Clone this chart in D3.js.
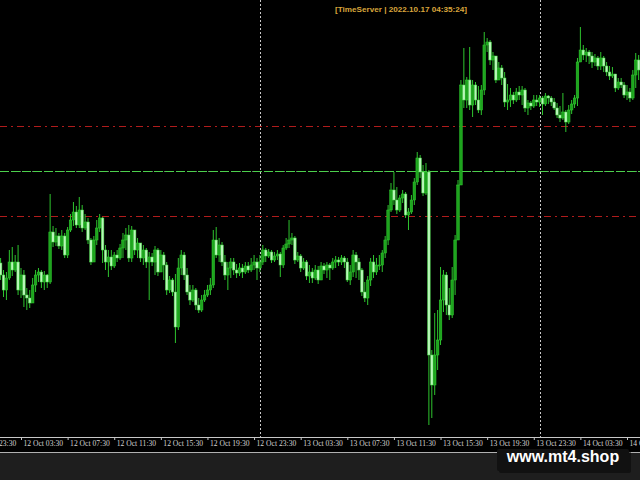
<!DOCTYPE html>
<html><head><meta charset="utf-8">
<script src="https://cdn.jsdelivr.net/npm/d3@7"></script>
<style>html,body{margin:0;padding:0;background:#1e1e1e;overflow:hidden}svg{display:block}</style>
</head><body><svg id="c" width="640" height="480"></svg>
<script>
// ---- data (EURUSD-like M15 bars, prices in pips: 9688.5 -> 0.96885) ----
const startTime = "2022-10-12T01:45:00Z";
const barMinutes = 15;
const open0 = 9694.5;
const closes = [9688.5,9681,9687,9695,9691,9695,9681,9688.5,9678.5,9677,9674.5,9683.5,9688.5,9690,9685,9688.5,9685,9710,9705,9708,
9703,9708,9698.5,9711,9716,9720,9713.5,9721,9712,9715,9706,9695,9706,9712,9717,9701,9695,9697.5,9693,9698.5,
9697,9702,9706,9708.5,9697,9711,9701,9704.5,9697,9701,9695,9697.5,9695,9701,9690,9698.5,9693.5,9681,9686,9680,
9662.5,9692,9698.5,9688.5,9680,9676,9681,9673.5,9671,9676,9678.5,9681,9683.5,9706,9698.5,9703.5,9695,9688.5,9692,9695,
9691,9689.5,9692,9690,9693,9691,9693.5,9695,9692,9695,9701,9698,9700,9696,9698,9699,9693.5,9702,9704,9706,
9707,9696,9698,9692,9695,9688,9690,9687,9691,9686,9693,9691,9693.5,9692,9695,9696,9695,9697,9695,9686,
9690,9698.5,9695,9691,9680,9677,9686,9695,9690,9693.5,9693.5,9699.5,9706,9721,9731,9726,9721,9727,9729,9718.5,
9720,9726,9735,9747,9740,9729.5,9740,9648.5,9633.5,9648.5,9656,9676,9688.5,9673.5,9668.5,9686,9706,9733.5,9783.5,9776,
9786,9773.5,9783.5,9776,9771,9781,9803.5,9805,9796,9798,9786,9792,9787,9775,9776,9778.5,9776,9780,9778.5,9781,
9772,9774.5,9773,9776,9775,9777,9774,9778,9777,9775,9772,9768.5,9767,9770,9765,9771,9774,9777,9795,9801,
9798.5,9800,9798,9795,9797,9793,9797,9793,9790,9788,9789,9782,9785,9783.5,9778.5,9780,9777,9788.5,9796,9791];
const highs = [9697,9691,9690,9701,9702.5,9698.5,9703.5,9692,9691,9682,9681,9687,9691,9692,9691,9690.5,9689,9729,9713,9712,
9709.5,9711,9709.5,9712.5,9719,9725,9723,9727.5,9723.5,9719,9717,9707,9708,9716,9719,9717.5,9703.5,9701,9701,9700,
9701,9704,9709.5,9712,9713.5,9713,9706,9707,9703.5,9703.5,9702,9700,9699.5,9703,9702,9701,9700,9695,9688,9687,
9689,9697,9701,9700,9692,9683.5,9683.5,9682,9677,9678.5,9681,9683.5,9687,9711,9712.5,9707,9705,9698.5,9695,9697,
9697,9694,9694.5,9694,9695,9695,9697,9698.5,9697,9698.5,9703.5,9702,9701.5,9701,9700,9701,9700,9703.5,9707,9716,
9709.5,9708,9700,9699,9697,9696,9693.5,9692,9693.5,9693,9695,9694.5,9695,9694.5,9697,9698,9697.5,9698.5,9698,9697,
9693.5,9701,9700,9697,9692,9685,9688,9697,9698.5,9697,9698.5,9701,9708,9723.5,9734.5,9740,9732.5,9728.5,9731,9730,
9722,9728.5,9737,9750,9748.5,9743.5,9744.5,9741,9651,9669.5,9671,9692.5,9691,9690,9682,9692.5,9708.5,9736,9786,9802,
9787.5,9802.5,9786,9785,9783,9783.5,9810,9807,9806,9800,9797,9795,9793.5,9790,9784,9782,9780,9782,9783,9783,
9782,9776,9775.5,9778.5,9778.5,9778.5,9778,9779.5,9778.5,9778,9777,9774.5,9773,9779.5,9771,9773.5,9776,9778.5,9797,9812.5,
9803.5,9802,9801,9800,9799,9798,9800,9798,9795,9793,9792.5,9788.5,9787,9787,9785,9783.5,9782,9791,9799.5,9798.5];
const lows = [9686,9677.5,9676,9686,9688,9690,9678.5,9677,9672.5,9671,9672,9674.5,9680,9685,9682,9681,9682,9684,9702.5,9703,
9701.5,9701,9697,9697,9710,9713,9712,9712,9710,9711,9704,9693.5,9697,9703.5,9710,9694.5,9691,9687.5,9691,9692,
9695,9696,9697,9701,9695,9695,9698.5,9697,9695,9693.5,9692,9676,9693,9688.5,9688,9691,9686,9678.5,9679.5,9678,
9654.5,9661,9688.5,9686,9678.5,9673.5,9675,9671,9669.5,9670,9675,9677.5,9678.5,9682,9697,9695,9693,9686,9681,9687,
9688.5,9687,9688,9687,9689,9689.5,9690,9691,9686,9690,9693.5,9695,9697,9694.5,9695,9696,9687.5,9692,9701,9702,
9703.5,9694,9695,9690,9691,9686,9684.5,9684.5,9686,9684,9687,9689,9687,9686,9691,9692,9693,9693.5,9692,9685,
9683.5,9687.5,9687,9686,9678,9675,9673.5,9683,9687,9688.5,9691,9690,9697,9703.5,9720,9723.5,9719,9720,9724.5,9717,
9711,9719,9723.5,9733.5,9737,9728,9728.5,9613.5,9617,9628.5,9641,9653.5,9670,9668.5,9666,9667,9678.5,9706,9733.5,9772,
9772,9771,9767.5,9773.5,9769.5,9768.5,9778.5,9800,9793.5,9791,9784.5,9787,9783.5,9772.5,9771,9772.5,9774,9775,9776,9773.5,
9770,9768.5,9771,9772,9773,9772.5,9768.5,9773,9774,9773,9771,9767,9765,9766,9760,9764,9769,9772,9773,9795,
9796,9795,9794,9792,9793,9791,9791,9790,9788,9786,9787,9780,9781,9782,9777,9776,9775,9776,9782,9786];
const tickTimes = ["2022-10-11T23:30:00Z","2022-10-12T03:30:00Z","2022-10-12T07:30:00Z","2022-10-12T11:30:00Z","2022-10-12T15:30:00Z",
"2022-10-12T19:30:00Z","2022-10-12T23:30:00Z","2022-10-13T03:30:00Z","2022-10-13T07:30:00Z","2022-10-13T11:30:00Z",
"2022-10-13T15:30:00Z","2022-10-13T19:30:00Z","2022-10-13T23:30:00Z","2022-10-14T03:30:00Z","2022-10-14T07:30:00Z"];
const daySeparators = ["2022-10-13T00:00:00Z","2022-10-14T00:00:00Z"];
const redLevels = [9763, 9718];
const greenLevels = [9740.5];
const titleText = "[TimeServer | 2022.10.17 04:35:24]";
const watermarkText = "www.mt4.shop";

// ---- build ----
const W = 640, H = 480, plotBottom = 437;
const svg = d3.select("#c");
const parse = d3.utcParse("%Y-%m-%dT%H:%M:%SZ");
const t0 = parse(startTime);
const bars = closes.map((c, i) => ({
  t: d3.utcMinute.offset(t0, i * barMinutes),
  o: (i === 0 ? open0 : closes[i - 1]) / 10000,
  c: c / 10000, h: highs[i] / 10000, l: lows[i] / 10000
}));

const x = d3.scaleUtc()
  .domain([parse("2022-10-12T03:30:00Z"), parse("2022-10-14T07:30:00Z")])
  .range([21, 627]);
const y = d3.scaleLinear().domain([0.96075, 0.9826]).range([plotBottom, 0]);

svg.append("rect").attr("width", W).attr("height", H).attr("fill", "#1e1e1e");
svg.append("rect").attr("width", W).attr("height", 453).attr("fill", "#000");

svg.append("clipPath").attr("id", "pc").append("rect").attr("width", W).attr("height", plotBottom);
const plot = svg.append("g").attr("clip-path", "url(#pc)");

// vertical day separators
plot.selectAll("line.vs").data(daySeparators).join("line")
  .attr("x1", d => Math.round(x(parse(d))) + 0.5).attr("x2", d => Math.round(x(parse(d))) + 0.5)
  .attr("y1", 0).attr("y2", plotBottom)
  .attr("stroke", "#c8c8c8").attr("stroke-width", 1).attr("stroke-dasharray", "2,2");

// horizontal levels
plot.selectAll("line.gg").data(greenLevels).join("line")
  .attr("x1", 0).attr("x2", W)
  .attr("y1", d => Math.round(y(d / 10000)) + 0.5).attr("y2", d => Math.round(y(d / 10000)) + 0.5)
  .attr("stroke", "#6a6a6a").attr("stroke-dasharray", "1,3");
plot.selectAll("line.gl").data(greenLevels).join("line")
  .attr("x1", 0).attr("x2", W)
  .attr("y1", d => Math.round(y(d / 10000)) + 0.5).attr("y2", d => Math.round(y(d / 10000)) + 0.5)
  .attr("stroke", "#4cd04c").attr("stroke-width", 1.1).attr("stroke-dasharray", "9,2");
plot.selectAll("line.rl").data(redLevels).join("line")
  .attr("x1", 0).attr("x2", W)
  .attr("y1", d => Math.round(y(d / 10000)) + 0.5).attr("y2", d => Math.round(y(d / 10000)) + 0.5)
  .attr("stroke", "#b01c1c").attr("stroke-width", 1.2).attr("stroke-dasharray", "7,4,2,4");

// candles
const bw = 2.6;
plot.selectAll("line.wick").data(bars).join("line")
  .attr("x1", d => x(d.t)).attr("x2", d => x(d.t))
  .attr("y1", d => y(Math.max(d.h, d.o, d.c))).attr("y2", d => y(Math.min(d.l, d.o, d.c)))
  .attr("stroke", "#2ec42e").attr("stroke-width", 1);
plot.selectAll("rect.body").data(bars).join("rect")
  .attr("x", d => x(d.t) - bw / 2)
  .attr("y", d => y(Math.max(d.o, d.c)))
  .attr("width", bw)
  .attr("height", d => Math.max(1, Math.abs(y(d.o) - y(d.c))))
  .attr("fill", d => d.c >= d.o ? "#1ea41e" : "#b8f7b8")
  .attr("stroke", d => d.c >= d.o ? "#30d030" : "#46d846")
  .attr("stroke-width", 0.5);

// axis band
svg.append("line").attr("x1", 0).attr("x2", W).attr("y1", plotBottom + 0.5).attr("y2", plotBottom + 0.5)
  .attr("stroke", "#c8c8c8");
svg.append("line").attr("x1", 0).attr("x2", W).attr("y1", 452.5).attr("y2", 452.5)
  .attr("stroke", "#b0b0b0");
const axis = d3.axisBottom(x).tickValues(tickTimes.map(parse))
  .tickFormat(d3.utcFormat("%d %b %H:%M")).tickSize(3).tickPadding(0);
const ag = svg.append("g").attr("transform", `translate(0,${plotBottom})`).call(axis);
ag.select(".domain").remove();
ag.selectAll(".tick line").attr("stroke", "#c8c8c8");
ag.selectAll(".tick text").attr("fill", "#d4d4d4").attr("text-anchor", "start")
  .attr("x", 2).attr("y", 3.5).attr("dy", "0.71em")
  .style("font-family", "'Liberation Serif', serif").style("font-size", "7.6px");

// title
svg.append("text").attr("x", 401).attr("y", 12).attr("text-anchor", "middle")
  .attr("fill", "#d9a53c").style("font-family", "'Liberation Sans', sans-serif")
  .style("font-size", "8px").style("font-weight", "bold")
  .attr("textLength", 132).attr("lengthAdjust", "spacingAndGlyphs").text(titleText);

// watermark
svg.append("rect").attr("x", 499).attr("y", 451).attr("width", 132).attr("height", 22).attr("rx", 2)
  .attr("fill", "#080808").attr("opacity", 0.6);
svg.append("rect").attr("x", 497).attr("y", 449).attr("width", 132).attr("height", 22).attr("rx", 2)
  .attr("fill", "#111111");
svg.append("text").attr("x", 563).attr("y", 462).attr("text-anchor", "middle")
  .attr("fill", "#ffffff").style("font-family", "'Liberation Sans', Arial, sans-serif")
  .style("font-size", "16px").style("font-weight", "bold").text(watermarkText);
</script></body></html>
